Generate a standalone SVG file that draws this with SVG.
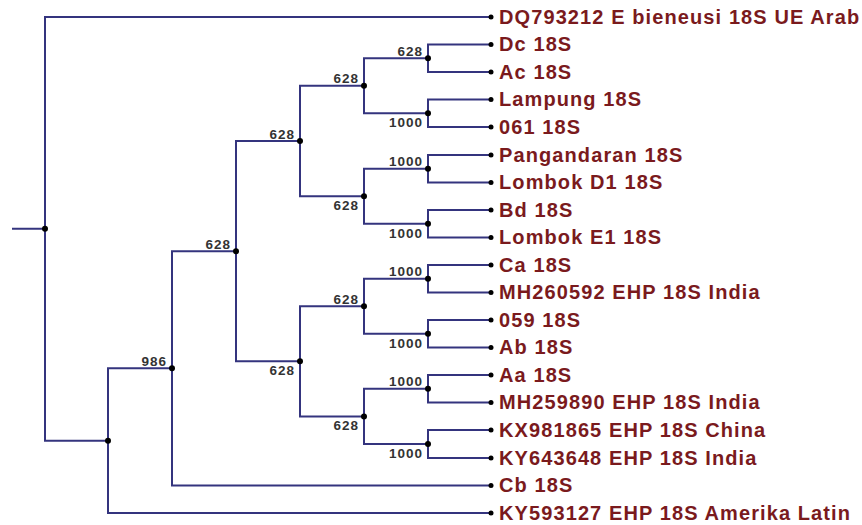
<svg xmlns="http://www.w3.org/2000/svg" width="862" height="525" viewBox="0 0 862 525">
<style>
.br{fill:none;stroke:#34347e;stroke-width:2;stroke-linejoin:miter;stroke-linecap:butt}
.dot{fill:#000}
.leaf text{font-family:"Liberation Sans",Arial,sans-serif;font-weight:bold;font-size:20px;letter-spacing:1.1px;fill:#7a1a1d}
.bs{font-family:"Liberation Sans",Arial,sans-serif;font-weight:bold;font-size:13.5px;letter-spacing:1px;fill:#333;text-anchor:end}
</style>
<rect width="862" height="525" fill="#fff"/>
<g id="connectors">
<path class="br" d="M12 228.8H45"/>
<path class="br" d="M491 17H45V440.65H108"/>
<path class="br" d="M172 368.3H108V513H491"/>
<path class="br" d="M236 251.15H172V485.5H491"/>
<path class="br" d="M300 141H236V361.3H300"/>
<path class="br" d="M364 85.75H300V196.25H364"/>
<path class="br" d="M364 306.25H300V416.375H364"/>
<path class="br" d="M428 58.25H364V113.25H428"/>
<path class="br" d="M428 168.75H364V223.75H428"/>
<path class="br" d="M428 278.75H364V333.75H428"/>
<path class="br" d="M428 388.75H364V444H428"/>
<path class="br" d="M491 44.5H428V72H491"/>
<path class="br" d="M491 99.5H428V127H491"/>
<path class="br" d="M491 155H428V182.5H491"/>
<path class="br" d="M491 210H428V237.5H491"/>
<path class="br" d="M491 265H428V292.5H491"/>
<path class="br" d="M491 320H428V347.5H491"/>
<path class="br" d="M491 375H428V402.5H491"/>
<path class="br" d="M491 430H428V458H491"/>
</g>
<g id="inner">
<g id="root"><circle class="dot" cx="45" cy="228.8" r="3"/></g>
<g id="s"><circle class="dot" cx="108" cy="440.65" r="3"/></g>
<g id="r"><circle class="dot" cx="172" cy="368.3" r="3"/><text class="bs" x="167" y="366">986</text></g>
<g id="q"><circle class="dot" cx="236" cy="251.15" r="3"/><text class="bs" x="231" y="248.7">628</text></g>
<g id="p1"><circle class="dot" cx="300" cy="141" r="3"/><text class="bs" x="295" y="138.5">628</text></g>
<g id="p2"><circle class="dot" cx="300" cy="361.3" r="3"/><text class="bs" x="295" y="375.3">628</text></g>
<g id="m1"><circle class="dot" cx="364" cy="85.75" r="3"/><text class="bs" x="359" y="83.3">628</text></g>
<g id="m2"><circle class="dot" cx="364" cy="196.25" r="3"/><text class="bs" x="359" y="210.3">628</text></g>
<g id="m3"><circle class="dot" cx="364" cy="306.25" r="3"/><text class="bs" x="359" y="303.8">628</text></g>
<g id="m4"><circle class="dot" cx="364" cy="416.375" r="3"/><text class="bs" x="359" y="430.4">628</text></g>
<g id="n1"><circle class="dot" cx="428" cy="58.25" r="3"/><text class="bs" x="423" y="55.8">628</text></g>
<g id="n2"><circle class="dot" cx="428" cy="113.25" r="3"/><text class="bs" x="423" y="127.3">1000</text></g>
<g id="n3"><circle class="dot" cx="428" cy="168.75" r="3"/><text class="bs" x="423" y="166.3">1000</text></g>
<g id="n4"><circle class="dot" cx="428" cy="223.75" r="3"/><text class="bs" x="423" y="237.8">1000</text></g>
<g id="n5"><circle class="dot" cx="428" cy="278.75" r="3"/><text class="bs" x="423" y="276.3">1000</text></g>
<g id="n6"><circle class="dot" cx="428" cy="333.75" r="3"/><text class="bs" x="423" y="347.8">1000</text></g>
<g id="n7"><circle class="dot" cx="428" cy="388.75" r="3"/><text class="bs" x="423" y="386.3">1000</text></g>
<g id="n8"><circle class="dot" cx="428" cy="444" r="3"/><text class="bs" x="423" y="458">1000</text></g>
</g>
<g id="leaves">
<g id="leaf-DQ793212" class="leaf"><circle class="dot" cx="491" cy="17" r="2.5"/><text x="499" y="23.5">DQ793212 E bieneusi 18S UE Arab</text></g>
<g id="leaf-Dc" class="leaf"><circle class="dot" cx="491" cy="44.5" r="2.5"/><text x="499" y="51">Dc 18S</text></g>
<g id="leaf-Ac" class="leaf"><circle class="dot" cx="491" cy="72" r="2.5"/><text x="499" y="78.5">Ac 18S</text></g>
<g id="leaf-Lampung" class="leaf"><circle class="dot" cx="491" cy="99.5" r="2.5"/><text x="499" y="106">Lampung 18S</text></g>
<g id="leaf-061" class="leaf"><circle class="dot" cx="491" cy="127" r="2.5"/><text x="499" y="133.5">061 18S</text></g>
<g id="leaf-Pangandaran" class="leaf"><circle class="dot" cx="491" cy="155" r="2.5"/><text x="499" y="161.5">Pangandaran 18S</text></g>
<g id="leaf-LombokD1" class="leaf"><circle class="dot" cx="491" cy="182.5" r="2.5"/><text x="499" y="189">Lombok D1 18S</text></g>
<g id="leaf-Bd" class="leaf"><circle class="dot" cx="491" cy="210" r="2.5"/><text x="499" y="216.5">Bd 18S</text></g>
<g id="leaf-LombokE1" class="leaf"><circle class="dot" cx="491" cy="237.5" r="2.5"/><text x="499" y="244">Lombok E1 18S</text></g>
<g id="leaf-Ca" class="leaf"><circle class="dot" cx="491" cy="265" r="2.5"/><text x="499" y="271.5">Ca 18S</text></g>
<g id="leaf-MH260592" class="leaf"><circle class="dot" cx="491" cy="292.5" r="2.5"/><text x="499" y="299">MH260592 EHP 18S India</text></g>
<g id="leaf-059" class="leaf"><circle class="dot" cx="491" cy="320" r="2.5"/><text x="499" y="326.5">059 18S</text></g>
<g id="leaf-Ab" class="leaf"><circle class="dot" cx="491" cy="347.5" r="2.5"/><text x="499" y="354">Ab 18S</text></g>
<g id="leaf-Aa" class="leaf"><circle class="dot" cx="491" cy="375" r="2.5"/><text x="499" y="381.5">Aa 18S</text></g>
<g id="leaf-MH259890" class="leaf"><circle class="dot" cx="491" cy="402.5" r="2.5"/><text x="499" y="409">MH259890 EHP 18S India</text></g>
<g id="leaf-KX981865" class="leaf"><circle class="dot" cx="491" cy="430" r="2.5"/><text x="499" y="436.5">KX981865 EHP 18S China</text></g>
<g id="leaf-KY643648" class="leaf"><circle class="dot" cx="491" cy="458" r="2.5"/><text x="499" y="464.5">KY643648 EHP 18S India</text></g>
<g id="leaf-Cb" class="leaf"><circle class="dot" cx="491" cy="485.5" r="2.5"/><text x="499" y="492">Cb 18S</text></g>
<g id="leaf-KY593127" class="leaf"><circle class="dot" cx="491" cy="513" r="2.5"/><text x="499" y="519.5">KY593127 EHP 18S Amerika Latin</text></g>
</g>
</svg>
